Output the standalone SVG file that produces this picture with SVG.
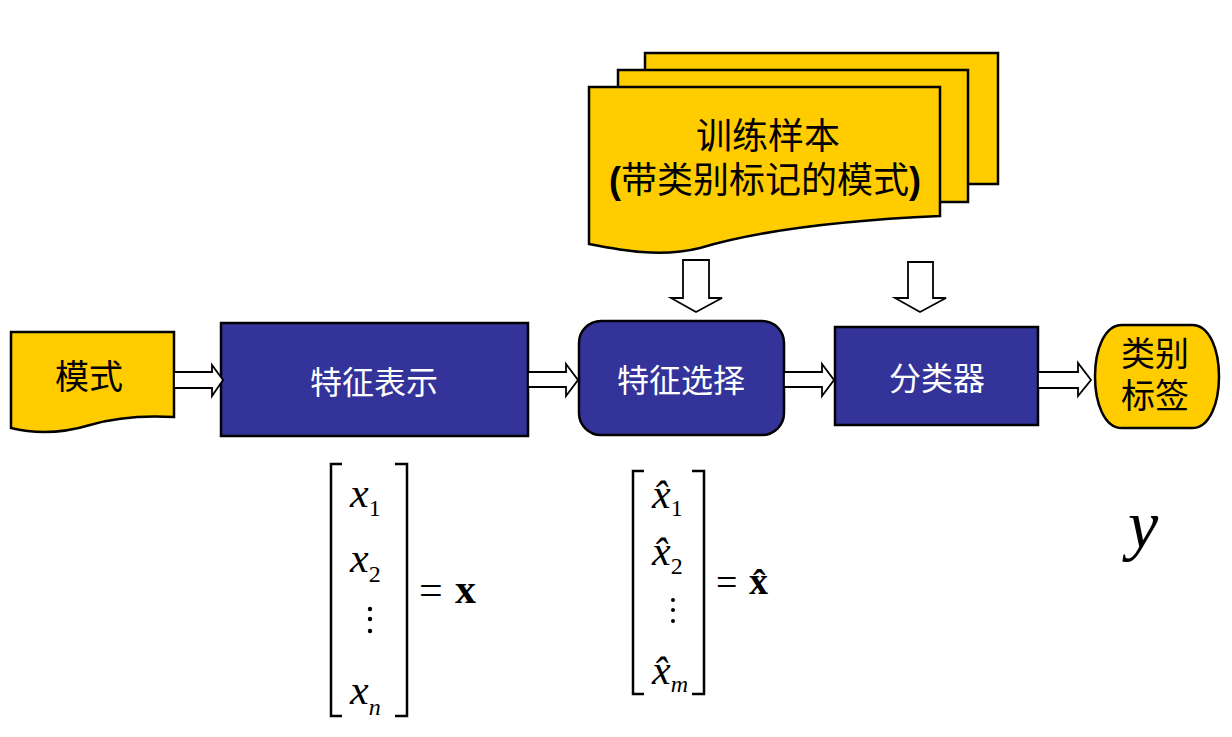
<svg xmlns="http://www.w3.org/2000/svg" width="1232" height="737" viewBox="0 0 1232 737">
<style>
.doc{fill:#FFCC00;stroke:#000;stroke-width:2.5}
.box{fill:#333399;stroke:#000;stroke-width:2.5}
.arr{fill:#fff;stroke:#000;stroke-width:1.8}
.cn{font-family:"Liberation Sans","Noto Sans CJK SC",sans-serif;font-size:34px;text-anchor:middle}
.wt{fill:#fff;font-size:32px}
.m{font-family:"Liberation Serif","Times New Roman",serif;font-style:italic;font-size:42px;fill:#000}
.sub{font-family:"Liberation Serif","Times New Roman",serif;font-size:24px;fill:#000}
.eq{font-family:"Liberation Serif","Times New Roman",serif;font-size:42px;fill:#000}
.br{fill:none;stroke:#000;stroke-width:2.5}
</style>
<rect width="1232" height="737" fill="#fff"/>
<g id="training">
<path class="doc" d="M645,53 H998 V184 H645 Z"/>
<path class="doc" d="M618,70 H968 V202 H618 Z"/>
<path class="doc" d="M589,87 H940 V216 C850,220 760,230 700,248 C660,258 620,250 589,244 Z"/>
<text class="cn" x="768" y="149" style="font-size:36px">训练样本</text>
<text class="cn" x="765" y="193" style="font-size:36px"><tspan font-weight="bold">(</tspan>带类别标记的模式<tspan font-weight="bold">)</tspan></text>
</g>
<g id="pattern">
<path class="doc" d="M11,332 H174 V417 C140,415 110,419 90,425 C60,434 35,434 11,428 Z"/>
<text class="cn" x="89" y="389">模式</text>
</g>
<g id="feat-repr">
<rect class="box" x="221" y="323" width="307" height="113"/>
<text class="cn wt" x="374" y="394">特征表示</text>
</g>
<g id="feat-sel">
<rect class="box" x="579" y="321" width="205" height="114" rx="22"/>
<text class="cn wt" x="681" y="392">特征选择</text>
</g>
<g id="classifier">
<rect class="box" x="835" y="327" width="203" height="98"/>
<text class="cn wt" x="937" y="390">分类器</text>
</g>
<g id="label">
<path class="doc" d="M1122,325 H1192 C1228,325 1228,428 1192,428 H1122 C1086,428 1086,325 1122,325 Z"/>
<text class="cn" x="1155" y="366">类别</text>
<text class="cn" x="1155" y="408">标签</text>
</g>
<g id="connectors">
<path class="arr" d="M174,372 H212 V365 L223,380 L212,396 V388 H174 Z"/>
<path class="arr" d="M528,372 H566 V364 L578,380 L566,396 V387 H528 Z"/>
<path class="arr" d="M784,372 H822 V364 L834,380 L822,396 V387 H784 Z"/>
<path class="arr" d="M1038,372 H1078 V363 L1091,380 L1078,396 V388 H1038 Z"/>
<path class="arr" d="M683,260 H709 V298 H722 L696,312 L671,298 H683 Z"/>
<path class="arr" d="M908,262 H933 V298 H946 L920,312 L895,298 H908 Z"/>
</g>
<g id="vec-x">
<path class="br" d="M342,464 H331 V716 H342"/>
<path class="br" d="M395,464 H407 V716 H395"/>
<text class="m" x="350" y="507">x<tspan class="sub" dy="9" style="font-style:normal">1</tspan></text>
<text class="m" x="350" y="572">x<tspan class="sub" dy="10" style="font-style:normal">2</tspan></text>
<circle cx="370" cy="609" r="2.2"/><circle cx="370" cy="619" r="2.2"/><circle cx="370" cy="631" r="2.2"/>
<text class="m" x="350" y="704">x<tspan class="sub" dy="11">n</tspan></text>
<text class="eq" x="419" y="604">=</text>
<text class="eq" x="455" y="603" style="font-weight:bold">x</text>
</g>
<g id="vec-xhat">
<path class="br" d="M644,471 H633 V694 H644"/>
<path class="br" d="M692,471 H704 V694 H692"/>
<text class="m" x="652" y="508">x̂<tspan class="sub" dy="8" style="font-style:normal">1</tspan></text>
<text class="m" x="652" y="565">x̂<tspan class="sub" dy="9" style="font-style:normal">2</tspan></text>
<circle cx="673" cy="600" r="2"/><circle cx="673" cy="610" r="2"/><circle cx="673" cy="621" r="2"/>
<text class="m" x="652" y="684">x̂<tspan class="sub" dy="8">m</tspan></text>
<text class="eq" x="716" y="595" style="font-size:38px">=</text>
<text class="eq" x="749" y="594" style="font-size:38px;font-weight:bold">x̂</text>
</g>
<g id="y-label">
<text class="m" x="1128" y="548" style="font-size:68px">y</text>
</g>
</svg>
